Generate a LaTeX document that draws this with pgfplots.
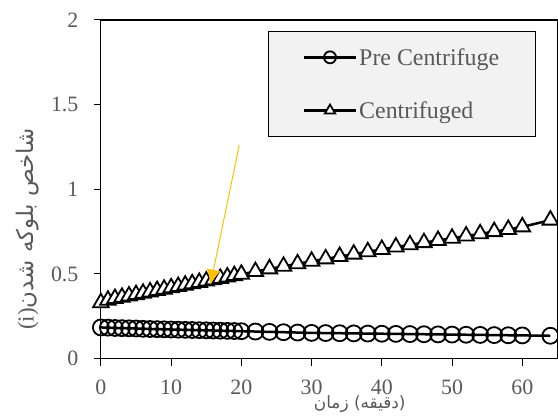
\documentclass[border=0pt]{standalone}
\usepackage{pgfplots}
\pgfplotsset{compat=1.18}
\usepackage{pgfplotstable}
\usetikzlibrary{arrows.meta}
\usepackage{fontspec}
\setmainfont{Liberation Serif}
\newfontfamily\arabicfont[Script=Arabic]{DejaVu Sans}
\TeXXeTstate=1
\definecolor{txtgray}{HTML}{595959}
\definecolor{legfill}{HTML}{F2F2F2}
\definecolor{arroworange}{HTML}{FFC000}

\pgfplotstableread{
x y
0 0.184
1 0.183
2 0.181
3 0.180
4 0.179
5 0.178
6 0.176
7 0.175
8 0.174
9 0.173
10 0.172
11 0.171
12 0.170
13 0.169
14 0.168
15 0.167
16 0.166
17 0.165
18 0.164
19 0.163
20 0.162
22 0.160
24 0.158
26 0.156
28 0.154
30 0.152
32 0.151
34 0.150
36 0.149
38 0.148
40 0.147
42 0.146
44 0.145
46 0.144
48 0.143
50 0.142
52 0.141
54 0.140
56 0.139
58 0.138
60 0.137
64 0.135
}\pre

\pgfplotstableread{
x y
0 0.330
1 0.345
2 0.355
3 0.362
4 0.370
5 0.378
6 0.386
7 0.394
8 0.402
9 0.410
10 0.418
11 0.426
12 0.434
13 0.442
14 0.450
15 0.458
16 0.466
17 0.474
18 0.482
19 0.490
20 0.498
22 0.514
24 0.530
26 0.545
28 0.560
30 0.575
32 0.589
34 0.603
36 0.617
38 0.631
40 0.645
42 0.659
44 0.672
46 0.685
48 0.698
50 0.711
52 0.724
54 0.737
56 0.750
58 0.763
60 0.778
64 0.818
}\cent

\begin{document}
\begin{tikzpicture}
\begin{axis}[
  scale only axis,
  width=457bp, height=339bp,
  xmin=0, xmax=65, ymin=0, ymax=2,
  xtick={0,10,...,60}, ytick={0,0.5,1,1.5,2},
  tick align=outside, tick pos=left,
  major tick length=7bp,
  tick style={black, line width=1bp},
  axis line style={black, line width=1.2bp},
  ticklabel style={font=\fontsize{22}{26}\selectfont, text=txtgray},
  /pgf/number format/assume math mode=true,
  xticklabel style={yshift=-11bp},
  yticklabel style={xshift=-12bp},
  clip=false,
  xlabel={{\arabicfont\mbox{زمان}\ \mbox{(دقیقه)}}},
  xlabel style={at={(axis description cs:0.567,-0.133)}, anchor=center, inner sep=0pt, font=\fontsize{17}{20}\selectfont, text=txtgray},
  ylabel={(i){\arabicfont\beginR شاخص بلوکه شدن\endR}},
  ylabel style={at={(axis description cs:-0.16,0.383)}, anchor=center, font=\fontsize{23}{26}\selectfont, text=txtgray},
  legend style={at={(axis description cs:0.367,0.968)}, anchor=north west, fill=legfill, draw=black, line width=0.8bp,
    font=\fontsize{24}{28}\selectfont, text=txtgray, inner xsep=34bp, inner ysep=15bp, row sep=31bp},
  legend cell align=left,
  legend image code/.code={\draw[mark repeat=2,mark phase=2,line width=2.5bp,mark size=6bp] plot coordinates {(0bp,0bp) (26bp,0bp) (52bp,0bp)};},
  legend image post style={line width=2.5bp},
]
\addplot[black, line width=2.5bp, mark=o, mark size=8bp, mark options={fill=white, line width=1.8bp, solid}] table {\pre};
\addlegendentry{Pre Centrifuge\hspace{16bp}}
\addplot[black, line width=2.5bp, mark=triangle*, mark size=9bp, mark options={fill=white, draw=black, line width=1.8bp, solid}] table {\cent};
\addlegendentry{Centrifuged}
\coordinate (A0) at (axis cs:19.7,1.262);
\coordinate (A1) at (axis cs:15.6,0.437);
\coordinate (SW) at (rel axis cs:0,0);
\coordinate (NE) at (rel axis cs:1,1);
\end{axis}
\draw[-{Latex[length=15bp,width=14bp]}, arroworange, line width=1bp] (A0) -- (A1);
\pgfresetboundingbox
\path[use as bounding box] ([xshift=-101bp,yshift=-57bp]SW) rectangle ([xshift=0.6bp,yshift=20bp]NE);
\end{tikzpicture}
\end{document}
